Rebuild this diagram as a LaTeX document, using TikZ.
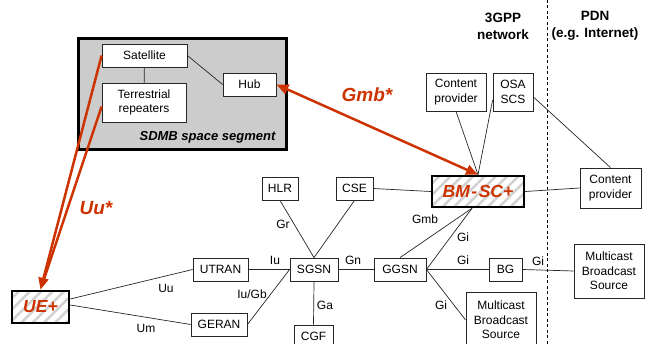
\documentclass[tikz,border=0pt]{standalone}
\usepackage{fontspec}
\setmainfont{Liberation Sans}
\usetikzlibrary{arrows.meta,patterns.meta}
\definecolor{sred}{RGB}{204,51,0}
\definecolor{sgrey}{RGB}{204,204,204}
\begin{document}
\begin{tikzpicture}[x=1pt,y=-1pt,
 every node/.style={font=\fontsize{12}{14.5}\selectfont, inner sep=0pt},
 box/.style={draw=black!85, line width=0.8pt, fill=white, align=center},
 hatch/.style={draw=black, line width=2.5pt, preaction={fill=white},
   pattern={Lines[angle=45,distance=8pt,line width=2.5pt]}, pattern color=black!18,
   align=center, text=sred, font=\fontsize{17.5}{20}\selectfont\bfseries\itshape},
 conn/.style={draw=black!85, line width=0.7pt},
 redline/.style={draw=sred, line width=2.5pt},
 redtip/.style={-{Triangle[length=12pt,width=10pt]}},
 redlbl/.style={text=sred, font=\fontsize{19}{22}\selectfont\bfseries\itshape},
 title/.style={font=\fontsize{13.5}{17}\selectfont\bfseries, align=center},
]
\useasboundingbox (0,0) rectangle (648,344);

% SDMB space segment
\node[draw=black, line width=3pt, fill=sgrey, minimum width=208pt, minimum height=111pt] (sdmb) at (182,94.5) {};
\node[font=\fontsize{13}{15}\selectfont\bfseries\itshape] (sdmblbl) at (207.5,137) {SDMB space segment};
\node[box, minimum width=85pt, minimum height=23pt] (sat) at (144.5,55.5) {Satellite};
\node[box, minimum width=84pt, minimum height=39pt] (terr) at (144,102.5) {Terrestrial\\repeaters};
\node[box, minimum width=53pt, minimum height=23pt] (hub) at (249.5,84.5) {Hub};

% titles
\node[title] (t3gpp) at (503,26) {3GPP\\network};
\node[title] (tpdn) at (595,26) {PDN\\(e.g. Internet)};
\coordinate (dtop) at (547,0);
\coordinate (dbot) at (547,344);
\draw[black, line width=0.8pt, dash pattern=on 3pt off 2.5pt] (dtop) -- (dbot);

% 3GPP nodes
\node[box, minimum width=60pt, minimum height=38pt] (cp1) at (456,92) {Content\\provider};
\node[box, minimum width=40pt, minimum height=38pt] (osa) at (513,92) {OSA\\SCS};
\node[hatch, minimum width=92pt, minimum height=31pt] (bmsc) at (478,191.5) {BM\kern1.5pt-\kern1.5pt SC+};
\node[box, minimum width=61pt, minimum height=40pt] (cp2) at (610.5,188) {Content\\provider};
\node[box, minimum width=36pt, minimum height=23pt] (hlr) at (280,188.5) {HLR};
\node[box, minimum width=37pt, minimum height=23pt] (cse) at (354.5,188.5) {CSE};
\node[box, minimum width=48pt, minimum height=23pt] (sgsn) at (314,269.5) {SGSN};
\node[box, minimum width=52pt, minimum height=23pt] (ggsn) at (400,269.5) {GGSN};
\node[box, minimum width=39pt, minimum height=23pt] (cgf) at (313.5,336.5) {CGF};
\node[box, minimum width=33pt, minimum height=23pt] (bg) at (505.5,269.5) {BG};
\node[box, minimum width=70pt, minimum height=54pt] (mbs1) at (609,271) {Multicast\\Broadcast\\Source};
\node[box, minimum width=70pt, minimum height=56pt] (mbs2) at (501,320) {Multicast\\Broadcast\\Source};
\node[box, minimum width=55pt, minimum height=23pt] (utran) at (220.5,269.5) {UTRAN};
\node[box, minimum width=56pt, minimum height=23pt] (geran) at (219,324.5) {GERAN};
\node[hatch, minimum width=57pt, minimum height=32pt] (ue) at (40.5,307) {UE+};

% connectors
\draw[conn] (sat) -- (terr);
\draw[conn] (sat.east) -- (hub.west);
\draw[conn] (cp1.south) -- (bmsc.north);
\draw[conn] ([yshift=-8pt]osa.west) -- (bmsc.north);
\draw[conn] ([yshift=-5pt]osa.east) -- (cp2.north);
\draw[conn] (cse.east) -- (bmsc.west);
\draw[conn] (bmsc.east) -- (cp2.west);
\draw[conn] (hlr.south) -- (sgsn.north);
\draw[conn] (cse.south) -- (sgsn.north);
\draw[conn] (sgsn.south) -- (cgf.north);
\draw[conn] (sgsn.east) -- (ggsn.west);
\draw[conn] (ggsn.north) -- ([xshift=-6pt]bmsc.south);
\draw[conn] (ggsn.east) -- ([xshift=-6pt]bmsc.south);
\draw[conn] (ggsn.east) -- (bg.west);
\draw[conn] (bg.east) -- (mbs1.west);
\draw[conn] (ggsn.east) -- (mbs2.west);
\draw[conn] ([yshift=8pt]ue.east) -- (utran.west);
\draw[conn] ([yshift=2pt]ue.east) -- (geran.west);
\draw[conn] (utran.east) -- (sgsn.west);
\draw[conn] (geran.east) -- (sgsn.west);

% labels
\node (lgr) at (283,224) {Gr};
\node (lgmb) at (425,219) {Gmb};
\node (lgi1) at (463,237) {Gi};
\node (lgn) at (353,260) {Gn};
\node (liu) at (275,260) {Iu};
\node (lga) at (325,305.5) {Ga};
\node (lgi2) at (463,260) {Gi};
\node (lgi3) at (538,261) {Gi};
\node (lgi4) at (441,305) {Gi};
\node (luu) at (166,288) {Uu};
\node (lum) at (146,328) {Um};
\node (liugb) at (252,294) {Iu/Gb};

% red interfaces
\draw[redline, redtip] (sat.west) -- (ue.north);
\draw[redline, shorten >=9pt] ([yshift=-4pt]terr.west) -- (ue.north);
\draw[redline, {Triangle[length=12pt,width=10pt]}-{Triangle[length=12pt,width=10pt]}] (hub.east) -- (bmsc.north);
\node[redlbl] (luustar) at (96,208) {Uu*};
\node[redlbl] (lgmbstar) at (367,95) {Gmb*};
\end{tikzpicture}
\end{document}
